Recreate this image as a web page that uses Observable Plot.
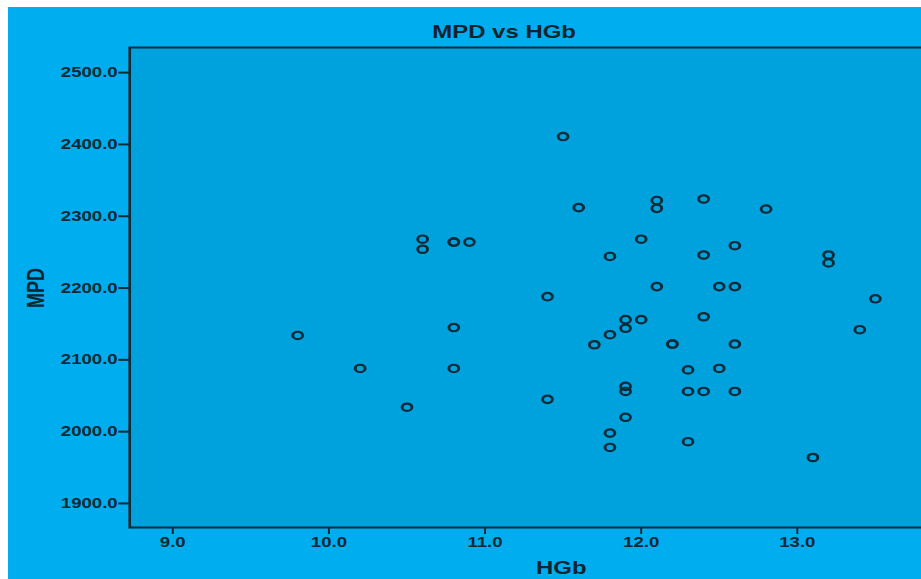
<!DOCTYPE html>
<html>
<head>
<meta charset="utf-8">
<script src="https://cdn.jsdelivr.net/npm/d3@7"></script>
<script src="https://cdn.jsdelivr.net/npm/@observablehq/plot@0.6"></script>
<style>
  html, body { margin: 0; padding: 0; background: #ffffff; overflow: hidden; width: 921px; height: 579px; }
  #outer { position: absolute; left: 8px; top: 7px; width: 913px; height: 572px; overflow: hidden; background: #00aeef; }
  #stretch { position: absolute; left: 0; top: 0; width: 687px; height: 572px; transform: scaleX(1.33); transform-origin: 0 0; }
  .lbl { position: absolute; font-family: "Liberation Sans", Arial, sans-serif; font-weight: bold; font-size: 18px; color: #0b2530; white-space: nowrap; line-height: 1; }
  #title { left: 373px; top: 16px; transform: translateX(-50%); }
  #ylab { left: 21px; top: 281px; transform: translate(-50%, -50%) rotate(-90deg); }
  #xlab { left: 416px; top: 552px; transform: translateX(-50%); }
</style>
</head>
<body>
<div id="outer"><div id="stretch">
  <div id="chart"></div>
  <div class="lbl" id="title">MPD vs HGb</div>
  <div class="lbl" id="ylab">MPD</div>
  <div class="lbl" id="xlab">HGb</div>
</div></div>
<script>
// HGb values (x) and MPD values (y)
const hgb = [9.8, 10.2, 10.5, 10.6, 10.6, 10.8, 10.8, 10.9, 10.8, 10.8,
             11.4, 11.4, 11.5, 11.6, 11.7, 11.8, 11.8, 11.8, 11.8, 11.9,
             11.9, 11.9, 11.9, 11.9, 12.0, 12.0, 12.1, 12.1, 12.1, 12.2,
             12.2, 12.3, 12.3, 12.3, 12.4, 12.4, 12.4, 12.4, 12.5, 12.5,
             12.6, 12.6, 12.6, 12.6, 12.8, 13.1, 13.2, 13.2, 13.4, 13.5];
const mpd = [2134, 2088, 2034, 2268, 2254, 2264, 2264, 2264, 2145, 2088,
             2188, 2045, 2411, 2312, 2121, 2244, 2135, 1998, 1978, 2156,
             2144, 2063, 2056, 2020, 2268, 2156, 2322, 2311, 2202, 2122,
             2122, 2086, 2056, 1986, 2324, 2246, 2160, 2056, 2202, 2088,
             2259, 2202, 2122, 2056, 2310, 1964, 2246, 2235, 2142, 2185];
const xTicks = [9, 10, 11, 12, 13];
const yTicks = [1900, 2000, 2100, 2200, 2300, 2400, 2500];

const data = hgb.map((h, i) => ({hgb: h, mpd: mpd[i]}));
const ink = "#0b2a35";

const chart = Plot.plot({
  width: 687,
  height: 572,
  marginLeft: 91,
  marginRight: 0,
  marginTop: 40,
  marginBottom: 52,
  style: {background: "transparent", color: ink, fontFamily: "'Liberation Sans', Arial, sans-serif", fontSize: "14px", fontWeight: "bold", overflow: "visible"},
  x: {domain: [8.724, 13.801], label: null},
  y: {domain: [1866.5, 2535], label: null},
  marks: [
    Plot.frame({fill: "#00a2dd", stroke: ink, strokeWidth: 2}),
    Plot.axisX({ticks: xTicks, tickFormat: d3.format(".1f"), tickSize: 7, tickPadding: 3, strokeWidth: 1.5, label: null}),
    Plot.axisY({ticks: yTicks, tickFormat: d3.format(".1f"), tickSize: 8, tickPadding: 1, strokeWidth: 2, label: null}),
    Plot.dot(data, {x: "hgb", y: "mpd", r: 3.7, stroke: "#0c2b38", strokeWidth: 2.2, fill: "none"})
  ]
});
document.getElementById("chart").appendChild(chart);
</script>
</body>
</html>
